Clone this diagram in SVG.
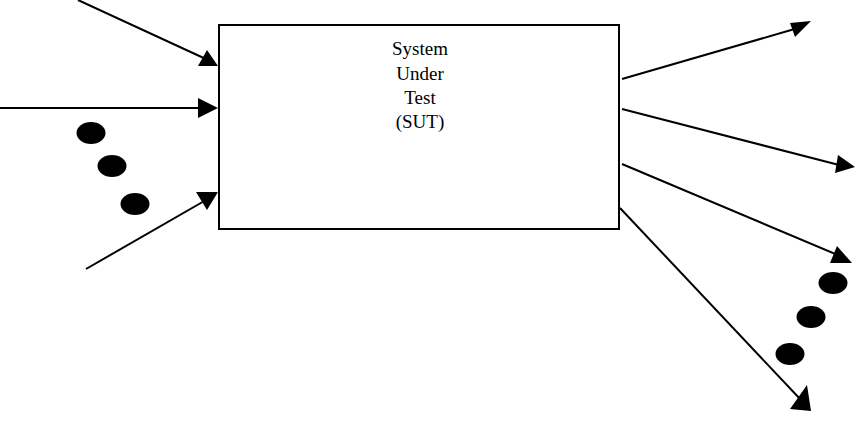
<svg xmlns="http://www.w3.org/2000/svg" width="856" height="424" viewBox="0 0 856 424">
<style>
.ln{stroke:#000;stroke-width:2;fill:none}
.ah{fill:#000}
.dot{fill:#000}
.lbl{font-family:"Liberation Serif","Times New Roman",serif;font-size:19px;fill:#000;text-anchor:middle}
</style>
<rect width="856" height="424" fill="#fff"/>
<g id="sut">
<rect x="219" y="25" width="400" height="204" fill="#fff" stroke="#000" stroke-width="2"/>
<text class="lbl" x="420" y="55">System</text>
<text class="lbl" x="420" y="80">Under</text>
<text class="lbl" x="420" y="104">Test</text>
<text class="lbl" x="420" y="128">(SUT)</text>
</g>
<g id="connectors">
<line class="ln" x1="78" y1="0" x2="208" y2="60"/>
<polygon class="ah" points="207,50 198,66 218,66"/>
<line class="ln" x1="0" y1="108" x2="205" y2="108"/>
<polygon class="ah" points="198,98 198,118 218,108"/>
<line class="ln" x1="86" y1="269" x2="206" y2="200"/>
<polygon class="ah" points="196,192 218,192 207,210"/>
<line class="ln" x1="622" y1="79" x2="798" y2="28"/>
<polygon class="ah" points="790,23 811,21 795,37"/>
<line class="ln" x1="622" y1="109" x2="843" y2="166"/>
<polygon class="ah" points="838,155 855,167 835,173"/>
<line class="ln" x1="622" y1="164" x2="840" y2="256"/>
<polygon class="ah" points="837,246 830,263 852,263"/>
<line class="ln" x1="620" y1="208" x2="801" y2="400" stroke-width="1.6"/>
<polygon class="ah" points="807,385 790,409 811,411"/>
</g>
<g id="dots-in">
<ellipse class="dot" cx="91" cy="133" rx="14.5" ry="11"/>
<ellipse class="dot" cx="112" cy="166" rx="14.5" ry="11"/>
<ellipse class="dot" cx="135" cy="204" rx="14.5" ry="11"/>
</g>
<g id="dots-out">
<ellipse class="dot" cx="833" cy="283" rx="14.5" ry="11"/>
<ellipse class="dot" cx="811" cy="317" rx="14.5" ry="11"/>
<ellipse class="dot" cx="790" cy="354" rx="14.5" ry="11"/>
</g>
</svg>
